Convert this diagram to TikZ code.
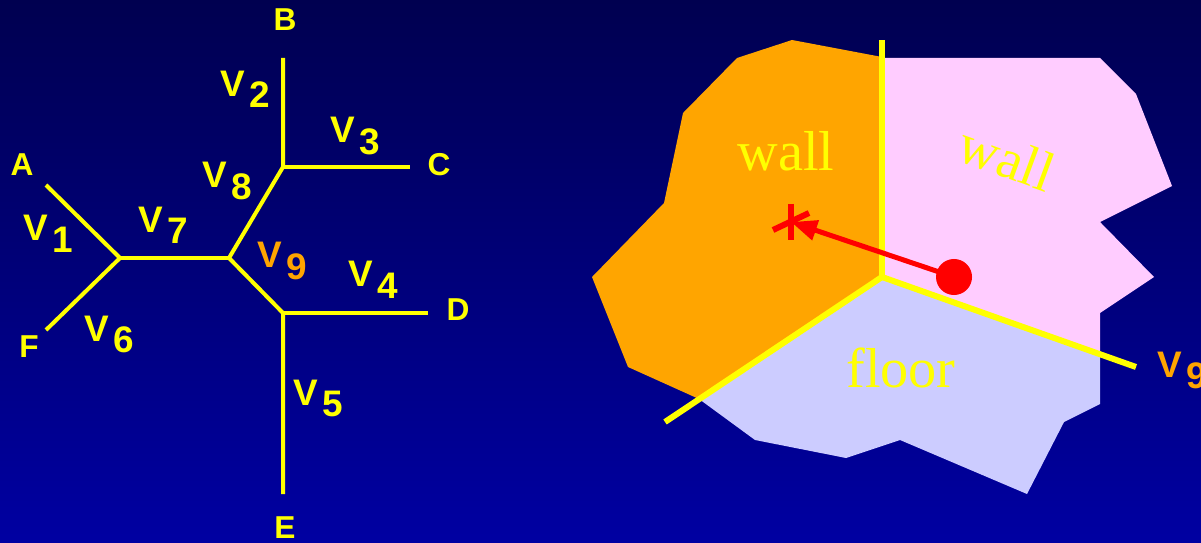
\documentclass[tikz,border=0pt]{standalone}
\usepackage{fontspec}
\setmainfont{Liberation Serif}
\setsansfont{Liberation Sans}
\usepackage{xcolor}
\usepackage{tikz}
\usetikzlibrary{arrows.meta, calc}
\definecolor{bgtop}{RGB}{0,0,80}
\definecolor{bgbottom}{RGB}{0,0,162}
\definecolor{lineyellow}{RGB}{255,255,0}
\definecolor{hotorange}{RGB}{255,165,0}
\definecolor{wallpink}{RGB}{255,204,255}
\definecolor{floorblue}{RGB}{204,204,255}
\newcommand{\vsub}[1]{V\kern0.4mm\raisebox{-1.1mm}{#1}}
\tikzset{
    graphline/.style={draw=lineyellow, line width=0.4mm},
    seam/.style={draw=lineyellow, line width=0.6mm},
    endlabel/.style={text=lineyellow, inner sep=0pt,
        font=\sffamily\bfseries\fontsize{9}{10}\selectfont},
    vlabel/.style={text=lineyellow, inner sep=0pt, anchor=base west,
        font=\sffamily\bfseries\fontsize{10.5}{12}\selectfont},
    vlabelhot/.style={vlabel, text=hotorange},
    regionlabel/.style={text=lineyellow, inner sep=0pt,
        font=\rmfamily\fontsize{16}{18}\selectfont},
    arrow/.style={-{Triangle[length=2.6mm, width=2mm]}, draw=red, line width=0.5mm},
    marker/.style={draw=red, line width=0.6mm},
}
\begin{document}
\begin{tikzpicture}[x=0.01cm, y=-0.01cm]
    \useasboundingbox (0,0) rectangle (1201,543);
    \clip (0,0) rectangle (1201,543);
    \fill[top color=bgtop, bottom color=bgbottom] (0,0) rectangle (1201,543);

    % left: the line graph
    \coordinate (A) at (46,185);
    \coordinate (B) at (283,58);
    \coordinate (C) at (410,167);
    \coordinate (D) at (428,313);
    \coordinate (E) at (283,494);
    \coordinate (F) at (46,330);
    \coordinate (jL) at (120,258);
    \coordinate (jM) at (229,258);
    \coordinate (jU) at (283,167);
    \coordinate (jD) at (283,313);
    \draw[graphline] (A) -- (jL) -- (F);
    \draw[graphline] (jL) -- (jM);
    \draw[graphline] (jM) -- (jU) -- (B);
    \draw[graphline] (jU) -- (C);
    \draw[graphline] (jM) -- (jD) -- (E);
    \draw[graphline] (jD) -- (D);

    \node[endlabel] (labA) at (22,165) {A};
    \node[endlabel] (labB) at (285,20) {B};
    \node[endlabel] (labC) at (439,165) {C};
    \node[endlabel] (labD) at (458,310) {D};
    \node[endlabel] (labE) at (285,528) {E};
    \node[endlabel] (labF) at (29,347) {F};

    \node[vlabel] (labV1) at (23,241) {\vsub{1}};
    \node[vlabel] (labV2) at (220,97) {\vsub{2}};
    \node[vlabel] (labV3) at (330,143) {\vsub{3}};
    \node[vlabel] (labV4) at (348,287) {\vsub{4}};
    \node[vlabel] (labV5) at (293,405) {\vsub{5}};
    \node[vlabel] (labV6) at (84,341) {\vsub{6}};
    \node[vlabel] (labV7) at (138,232) {\vsub{7}};
    \node[vlabel] (labV8) at (202,188) {\vsub{8}};
    \node[vlabelhot] (labV9) at (257,268) {\vsub{9}};

    % right: the scene
    \coordinate (cj) at (882,277);
    \coordinate (ctop) at (882,40);
    \coordinate (cleft) at (665,422);
    \coordinate (cright) at (1136,367);
    \fill[hotorange] (882,57) -- (792,40) -- (737,58) -- (683,113) -- (664,203)
        -- (592,277) -- (628,367) -- (699,399) -- (cj) -- cycle;
    \fill[wallpink] (882,58) -- (1100,58) -- (1136,94) -- (1172,186) -- (1100,222)
        -- (1154,277) -- (1100,313) -- (1100,354) -- (cj) -- cycle;
    \fill[floorblue] (cj) -- (1100,354) -- (1100,404) -- (1064,422) -- (1027,494)
        -- (900,440) -- (846,458) -- (755,440) -- (699,399) -- cycle;
    \draw[seam] (cj) -- (ctop);
    \draw[seam] (cj) -- (cleft);
    \draw[seam] (cj) -- (cright);

    \node[regionlabel] (wallL) at (786,151) {wall};
    \node[regionlabel, rotate=-20] (wallR) at (1007,158) {wall};
    \node[regionlabel] (floor) at (901,368) {floor};

    \coordinate (hit) at (791,222);
    \node[circle, fill=red, inner sep=0pt, minimum size=3.6mm] (dot) at (954,277) {};
    \draw[arrow] (dot.center) -- (hit);
    \draw[marker] (hit) ++(0,-18) -- ++(0,36);
    \draw[marker] (hit) ++(-18,8) -- ++(36,-17);

    \node[vlabelhot] (labV9r) at (1157,377) {\vsub{9}};
\end{tikzpicture}
\end{document}
